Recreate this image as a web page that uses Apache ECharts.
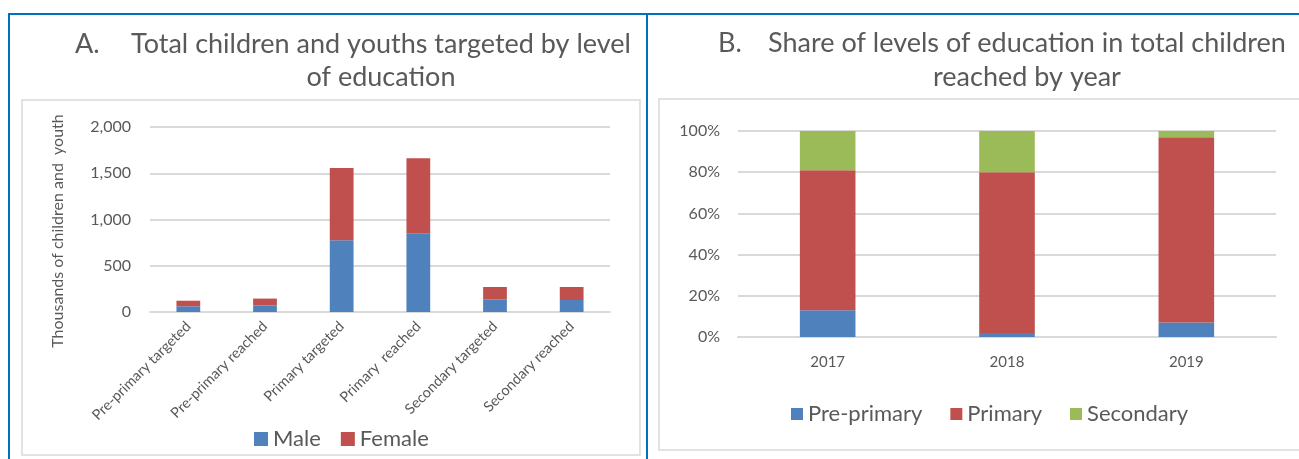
<!DOCTYPE html>
<html>
<head>
<meta charset="utf-8">
<script src="https://cdn.jsdelivr.net/npm/echarts@6/dist/echarts.min.js"></script>
<style>
  html, body { margin: 0; padding: 0; background: #fff; }
  #chart { width: 1299px; height: 459px; }
</style>
</head>
<body>
<div id="chart"></div>
<script>
// panel A: thousands of children and youth
const levelCats = ['Pre-primary targeted', 'Pre-primary reached', 'Primary targeted', 'Primary  reached', 'Secondary targeted', 'Secondary reached']
const maleVals = [62, 72, 775, 851, 137, 130]
const femaleVals = [60, 73, 782, 811, 133, 140]

// panel B: share of levels (%) in total children reached
const years = ['2017', '2018', '2019']
const prePrimaryShare = [13, 2, 7]
const primaryShare = [68, 78, 90]
const secondaryShare = [19, 20, 3]

const FONT = 'Lato'
const TXT = '#595959'
const GRID = '#D9D9D9'
const BLUE = '#4F81BD'
const RED = '#C0504D'
const GREEN = '#9BBB59'

const chart = echarts.init(document.getElementById('chart'))

function fmtThousands(v) {
  return String(v).replace(/\B(?=(\d{3})+(?!\d))/g, ',')
}

function label(text, x, y, size, extra) {
  return {
    type: 'text', x: x, y: y, silent: true,
    style: Object.assign({ text: text, font: size + 'px ' + FONT, fill: TXT, align: 'left', verticalAlign: 'middle' }, extra || {})
  }
}

chart.setOption({
  animation: false,
  textStyle: { fontFamily: FONT, color: TXT },
  graphic: [
    // frames
    { type: 'rect', shape: { x: 9, y: 14, width: 638, height: 470 }, style: { fill: 'none', stroke: '#0070C0', lineWidth: 2 }, silent: true },
    { type: 'line', shape: { x1: 647, y1: 14, x2: 1299, y2: 14 }, style: { stroke: '#0070C0', lineWidth: 2 }, silent: true },
    { type: 'rect', shape: { x: 22, y: 100, width: 618, height: 355 }, style: { fill: 'none', stroke: GRID, lineWidth: 1.5 }, silent: true },
    { type: 'rect', shape: { x: 659, y: 99, width: 660, height: 351 }, style: { fill: 'none', stroke: GRID, lineWidth: 1.5 }, silent: true },
    // titles
    label('A.', 75, 44, 27),
    label('Total children and youths targeted by level', 381, 44, 27, { align: 'center' }),
    label('of education', 381, 77, 27, { align: 'center' }),
    label('B.', 718, 43, 27),
    label('Share of levels of education in total children', 1027, 43, 27, { align: 'center' }),
    label('reached by year', 1027, 77, 27, { align: 'center' }),
    // y axis title of panel A
    Object.assign(label('Thousands of children and  youth', 58, 231, 16, { align: 'center' }), { rotation: Math.PI / 2 })
  ],
  legend: [
    {
      left: 249, top: 423, itemWidth: 14, itemHeight: 14, itemGap: 20,
      icon: 'rect',
      data: ['Male', 'Female'],
      textStyle: { fontSize: 22, color: TXT, fontFamily: FONT }
    },
    {
      left: 786, top: 398, itemWidth: 12, itemHeight: 12, itemGap: 28,
      icon: 'rect',
      data: ['Pre-primary', 'Primary', 'Secondary'],
      textStyle: { fontSize: 22, color: TXT, fontFamily: FONT }
    }
  ],
  grid: [
    { left: 150, right: 689, top: 127, bottom: 147 },
    { left: 738, right: 23, top: 131, bottom: 122 }
  ],
  xAxis: [
    {
      type: 'category', gridIndex: 0, data: levelCats,
      axisTick: { show: false },
      axisLine: { lineStyle: { color: GRID, width: 2 } },
      axisLabel: { rotate: 45, fontSize: 14.5, color: TXT, margin: 12, interval: 0 }
    },
    {
      type: 'category', gridIndex: 1, data: years,
      axisTick: { show: false },
      axisLine: { lineStyle: { color: GRID, width: 2 } },
      axisLabel: { fontSize: 15, color: TXT, margin: 18 }
    }
  ],
  yAxis: [
    {
      type: 'value', gridIndex: 0, min: 0, max: 2000, interval: 500,
      axisLabel: { fontSize: 16, color: TXT, margin: 19, formatter: fmtThousands },
      splitLine: { lineStyle: { color: GRID, width: 2 } }
    },
    {
      type: 'value', gridIndex: 1, min: 0, max: 100, interval: 20,
      axisLabel: { fontSize: 16, color: TXT, margin: 18, formatter: '{value}%' },
      splitLine: { lineStyle: { color: GRID, width: 2 } }
    }
  ],
  series: [
    { name: 'Male', type: 'bar', stack: 'a', xAxisIndex: 0, yAxisIndex: 0, barWidth: '31%', data: maleVals, itemStyle: { color: BLUE } },
    { name: 'Female', type: 'bar', stack: 'a', xAxisIndex: 0, yAxisIndex: 0, barWidth: '31%', data: femaleVals, itemStyle: { color: RED } },
    { name: 'Pre-primary', type: 'bar', stack: 'b', xAxisIndex: 1, yAxisIndex: 1, barWidth: '31%', data: prePrimaryShare, itemStyle: { color: BLUE } },
    { name: 'Primary', type: 'bar', stack: 'b', xAxisIndex: 1, yAxisIndex: 1, barWidth: '31%', data: primaryShare, itemStyle: { color: RED } },
    { name: 'Secondary', type: 'bar', stack: 'b', xAxisIndex: 1, yAxisIndex: 1, barWidth: '31%', data: secondaryShare, itemStyle: { color: GREEN } }
  ]
})
</script>
</body>
</html>
